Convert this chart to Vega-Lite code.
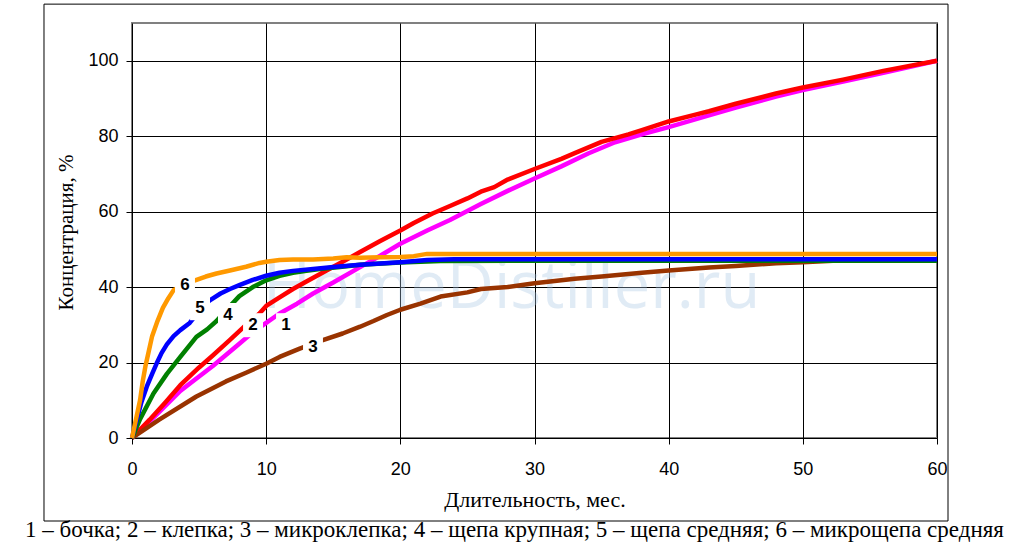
{
  "$schema": "https://vega.github.io/schema/vega-lite/v6.json",
  "width": 805,
  "height": 415,
  "autosize": {"type": "none"},
  "padding": {"left": 132, "top": 23, "right": 77, "bottom": 114},
  "background": "white",
  "title": {
    "text": "1 – бочка; 2 – клепка; 3 – микроклепка; 4 – щепа крупная; 5 – щепа средняя; 6 – микрощепа средняя",
    "orient": "bottom",
    "anchor": "middle",
    "font": "Liberation Serif, Times New Roman, DejaVu Serif, serif",
    "fontSize": 23,
    "fontWeight": "normal",
    "color": "black",
    "offset": -3,
    "dx": -20
  },
  "config": {
    "view": {"stroke": "#808080", "strokeWidth": 2},
    "axis": {
      "grid": true,
      "gridColor": "black",
      "gridWidth": 1,
      "gridOpacity": 1,
      "domain": false,
      "ticks": true,
      "tickColor": "black",
      "tickSize": 6,
      "labelFont": "Liberation Sans, Arial, sans-serif",
      "labelFontSize": 18,
      "labelColor": "black",
      "labelFlush": false,
      "titleFont": "Liberation Serif, Times New Roman, DejaVu Serif, serif",
      "titleFontSize": 22,
      "titleFontWeight": "normal",
      "titleColor": "black"
    }
  },
  "datasets": {
    "curves": [
      {"s": "1", "t": 0, "c": 0}, {"s": "1", "t": 1, "c": 3.3}, {"s": "1", "t": 2, "c": 6.8}, {"s": "1", "t": 3.6, "c": 12.5},
      {"s": "1", "t": 5, "c": 16.3}, {"s": "1", "t": 6, "c": 19}, {"s": "1", "t": 7, "c": 22}, {"s": "1", "t": 8, "c": 25},
      {"s": "1", "t": 9, "c": 28}, {"s": "1", "t": 10, "c": 30.5}, {"s": "1", "t": 11, "c": 33}, {"s": "1", "t": 12.3, "c": 35.6},
      {"s": "1", "t": 13.5, "c": 38.3}, {"s": "1", "t": 15, "c": 41.2}, {"s": "1", "t": 17, "c": 45.3}, {"s": "1", "t": 18.5, "c": 48.3},
      {"s": "1", "t": 20, "c": 51.5}, {"s": "1", "t": 22, "c": 55}, {"s": "1", "t": 23.7, "c": 57.8}, {"s": "1", "t": 26, "c": 62},
      {"s": "1", "t": 28, "c": 65.5}, {"s": "1", "t": 30, "c": 68.8}, {"s": "1", "t": 32, "c": 72}, {"s": "1", "t": 34, "c": 75.4},
      {"s": "1", "t": 36, "c": 78.4}, {"s": "1", "t": 38, "c": 80.5}, {"s": "1", "t": 40, "c": 82.4}, {"s": "1", "t": 43, "c": 85.5},
      {"s": "1", "t": 45, "c": 87.6}, {"s": "1", "t": 48, "c": 90.5}, {"s": "1", "t": 50, "c": 92.2}, {"s": "1", "t": 53, "c": 94.5},
      {"s": "1", "t": 56, "c": 96.8}, {"s": "1", "t": 60, "c": 100},

      {"s": "2", "t": 0, "c": 0}, {"s": "2", "t": 1.3, "c": 4.8}, {"s": "2", "t": 2.5, "c": 9.5}, {"s": "2", "t": 3.6, "c": 14},
      {"s": "2", "t": 5, "c": 18.7}, {"s": "2", "t": 6, "c": 21.8}, {"s": "2", "t": 7.3, "c": 26}, {"s": "2", "t": 8.5, "c": 30},
      {"s": "2", "t": 9.5, "c": 33}, {"s": "2", "t": 10, "c": 35}, {"s": "2", "t": 11, "c": 37.3}, {"s": "2", "t": 12, "c": 39.5},
      {"s": "2", "t": 13, "c": 41.5}, {"s": "2", "t": 14.5, "c": 44.4}, {"s": "2", "t": 16, "c": 47.3}, {"s": "2", "t": 17, "c": 49.3},
      {"s": "2", "t": 18.5, "c": 52.2}, {"s": "2", "t": 20, "c": 55}, {"s": "2", "t": 21, "c": 57}, {"s": "2", "t": 22.4, "c": 59.5},
      {"s": "2", "t": 23.7, "c": 61.5}, {"s": "2", "t": 25, "c": 63.5}, {"s": "2", "t": 26, "c": 65.3}, {"s": "2", "t": 27, "c": 66.5},
      {"s": "2", "t": 28, "c": 68.5}, {"s": "2", "t": 30, "c": 71.3}, {"s": "2", "t": 32, "c": 74}, {"s": "2", "t": 33, "c": 75.5},
      {"s": "2", "t": 35, "c": 78.5}, {"s": "2", "t": 37, "c": 80.5}, {"s": "2", "t": 38, "c": 81.6}, {"s": "2", "t": 40, "c": 83.9},
      {"s": "2", "t": 42, "c": 85.7}, {"s": "2", "t": 43, "c": 86.6}, {"s": "2", "t": 45, "c": 88.6}, {"s": "2", "t": 48, "c": 91.3},
      {"s": "2", "t": 50, "c": 92.9}, {"s": "2", "t": 53, "c": 95}, {"s": "2", "t": 56, "c": 97.3}, {"s": "2", "t": 60, "c": 100},

      {"s": "3", "t": 0, "c": 0}, {"s": "3", "t": 2, "c": 4.8}, {"s": "3", "t": 4.8, "c": 11}, {"s": "3", "t": 7, "c": 15},
      {"s": "3", "t": 8.5, "c": 17.3}, {"s": "3", "t": 10, "c": 19.7}, {"s": "3", "t": 11, "c": 21.5}, {"s": "3", "t": 12.5, "c": 23.7},
      {"s": "3", "t": 14, "c": 25.7}, {"s": "3", "t": 15.7, "c": 27.7}, {"s": "3", "t": 17, "c": 29.5}, {"s": "3", "t": 18, "c": 31},
      {"s": "3", "t": 19, "c": 32.6}, {"s": "3", "t": 20, "c": 34}, {"s": "3", "t": 21.5, "c": 35.6}, {"s": "3", "t": 23, "c": 37.5},
      {"s": "3", "t": 25, "c": 38.6}, {"s": "3", "t": 26, "c": 39.5}, {"s": "3", "t": 28, "c": 40}, {"s": "3", "t": 30, "c": 41},
      {"s": "3", "t": 33, "c": 42.2}, {"s": "3", "t": 35, "c": 42.8}, {"s": "3", "t": 38, "c": 43.8}, {"s": "3", "t": 40, "c": 44.4},
      {"s": "3", "t": 43, "c": 45.2}, {"s": "3", "t": 45, "c": 45.6}, {"s": "3", "t": 48, "c": 46.3}, {"s": "3", "t": 50, "c": 46.6},
      {"s": "3", "t": 53, "c": 47.1}, {"s": "3", "t": 56, "c": 47.3}, {"s": "3", "t": 60, "c": 47.4},

      {"s": "4", "t": 0, "c": 0}, {"s": "4", "t": 0.6, "c": 5}, {"s": "4", "t": 1.6, "c": 11.8}, {"s": "4", "t": 2.6, "c": 17},
      {"s": "4", "t": 3.6, "c": 21.5}, {"s": "4", "t": 4.8, "c": 26.8}, {"s": "4", "t": 5.6, "c": 28.8}, {"s": "4", "t": 6.3, "c": 31},
      {"s": "4", "t": 7, "c": 33.8}, {"s": "4", "t": 8, "c": 37.6}, {"s": "4", "t": 9, "c": 40}, {"s": "4", "t": 10, "c": 41.8},
      {"s": "4", "t": 11, "c": 43}, {"s": "4", "t": 12, "c": 43.8}, {"s": "4", "t": 13, "c": 44.3}, {"s": "4", "t": 14, "c": 44.8},
      {"s": "4", "t": 15.5, "c": 45.3}, {"s": "4", "t": 17, "c": 45.9}, {"s": "4", "t": 20, "c": 46.5}, {"s": "4", "t": 23, "c": 46.9},
      {"s": "4", "t": 30, "c": 47}, {"s": "4", "t": 40, "c": 47}, {"s": "4", "t": 50, "c": 47}, {"s": "4", "t": 60, "c": 47},

      {"s": "5", "t": 0, "c": 0}, {"s": "5", "t": 0.35, "c": 4.8}, {"s": "5", "t": 0.7, "c": 9.5}, {"s": "5", "t": 1.1, "c": 13.6},
      {"s": "5", "t": 1.5, "c": 17}, {"s": "5", "t": 1.84, "c": 19.8}, {"s": "5", "t": 2.2, "c": 22.5}, {"s": "5", "t": 2.6, "c": 24.8},
      {"s": "5", "t": 3.1, "c": 27}, {"s": "5", "t": 3.6, "c": 28.6}, {"s": "5", "t": 4.3, "c": 30.5}, {"s": "5", "t": 5, "c": 33.6},
      {"s": "5", "t": 5.8, "c": 36.5}, {"s": "5", "t": 6.6, "c": 38.3}, {"s": "5", "t": 7.3, "c": 39.5}, {"s": "5", "t": 8, "c": 40.5},
      {"s": "5", "t": 9, "c": 41.9}, {"s": "5", "t": 10, "c": 43}, {"s": "5", "t": 11, "c": 43.8}, {"s": "5", "t": 12, "c": 44.3},
      {"s": "5", "t": 13.5, "c": 44.8}, {"s": "5", "t": 15, "c": 45.3}, {"s": "5", "t": 17, "c": 45.9}, {"s": "5", "t": 20, "c": 46.6},
      {"s": "5", "t": 22, "c": 47.2}, {"s": "5", "t": 24, "c": 47.4}, {"s": "5", "t": 30, "c": 47.4}, {"s": "5", "t": 40, "c": 47.4},
      {"s": "5", "t": 50, "c": 47.4}, {"s": "5", "t": 60, "c": 47.4},

      {"s": "6", "t": 0, "c": 0}, {"s": "6", "t": 0.3, "c": 5}, {"s": "6", "t": 0.6, "c": 10}, {"s": "6", "t": 0.8, "c": 15},
      {"s": "6", "t": 1, "c": 19}, {"s": "6", "t": 1.25, "c": 23}, {"s": "6", "t": 1.5, "c": 27}, {"s": "6", "t": 1.9, "c": 31},
      {"s": "6", "t": 2.3, "c": 34.5}, {"s": "6", "t": 2.7, "c": 37}, {"s": "6", "t": 3.1, "c": 39.2}, {"s": "6", "t": 4, "c": 41},
      {"s": "6", "t": 4.7, "c": 41.8}, {"s": "6", "t": 5.5, "c": 42.8}, {"s": "6", "t": 6.3, "c": 43.6}, {"s": "6", "t": 7.3, "c": 44.4},
      {"s": "6", "t": 8.5, "c": 45.4}, {"s": "6", "t": 9.5, "c": 46.4}, {"s": "6", "t": 10, "c": 46.7}, {"s": "6", "t": 11, "c": 47.2},
      {"s": "6", "t": 12, "c": 47.3}, {"s": "6", "t": 13.5, "c": 47.3}, {"s": "6", "t": 15, "c": 47.6}, {"s": "6", "t": 16, "c": 47.9},
      {"s": "6", "t": 17, "c": 47.8}, {"s": "6", "t": 18.5, "c": 47.9}, {"s": "6", "t": 20, "c": 48}, {"s": "6", "t": 21, "c": 48.2},
      {"s": "6", "t": 22, "c": 48.8}, {"s": "6", "t": 30, "c": 48.8}, {"s": "6", "t": 40, "c": 48.8}, {"s": "6", "t": 50, "c": 48.8},
      {"s": "6", "t": 60, "c": 48.8}
    ],
    "labels": [
      {"lab": "6", "t": 3.95, "c": 40.5},
      {"lab": "5", "t": 5.07, "c": 34.4},
      {"lab": "4", "t": 7.15, "c": 32.6},
      {"lab": "2", "t": 9.02, "c": 29.9},
      {"lab": "1", "t": 11.48, "c": 29.9},
      {"lab": "3", "t": 13.49, "c": 24.1}
    ],
    "frame": [{"t": -6.56, "t2": 60.82, "c": -22.0, "c2": 115.0}],
    "mark": [{"txt": "HomeDistiller.ru", "t": 28.3, "c": 34.4}]
  },
  "encoding": {
    "x": {
      "field": "t",
      "type": "quantitative",
      "scale": {"domain": [0, 60], "nice": false, "zero": false},
      "axis": {
        "values": [0, 10, 20, 30, 40, 50, 60],
        "title": "Длительность, мес.",
        "labelPadding": 16,
        "titleY": 68,
        "titleBaseline": "alphabetic"
      }
    },
    "y": {
      "field": "c",
      "type": "quantitative",
      "scale": {"domain": [0, 110], "nice": false, "zero": false},
      "axis": {
        "values": [0, 20, 40, 60, 80, 100],
        "title": "Концентрация, %",
        "titleFontSize": 21,
        "labelPadding": 8,
        "titleX": -60,
        "titleY": 209,
        "titleBaseline": "alphabetic"
      }
    }
  },
  "layer": [
    {
      "data": {"name": "frame"},
      "mark": {"type": "rect", "fillOpacity": 0, "stroke": "black", "strokeWidth": 1},
      "encoding": {
        "x2": {"field": "t2"},
        "y2": {"field": "c2"}
      }
    },
    {
      "data": {"name": "mark"},
      "mark": {
        "type": "text",
        "font": "Open Sans",
        "fontSize": 65,
        "align": "center",
        "baseline": "alphabetic",
        "color": "#a9c7e4",
        "opacity": 0.35
      },
      "encoding": {"text": {"field": "txt"}}
    },
    {
      "data": {"name": "curves"},
      "mark": {"type": "line", "strokeWidth": 4.5, "strokeJoin": "round", "strokeCap": "butt"},
      "encoding": {
        "color": {
          "field": "s",
          "type": "nominal",
          "scale": {
            "domain": ["1", "2", "3", "4", "5", "6"],
            "range": ["#ff00ff", "#ff0000", "#993300", "#008000", "#0000ff", "#ff9900"]
          },
          "legend": null
        }
      }
    },
    {
      "data": {"name": "labels"},
      "mark": {
        "type": "point",
        "shape": "M-0.83,-1H0.83V1H-0.83Z",
        "filled": true,
        "fill": "white",
        "opacity": 1,
        "strokeWidth": 0,
        "size": 576
      }
    },
    {
      "data": {"name": "labels"},
      "mark": {
        "type": "text",
        "font": "Liberation Sans, Arial, sans-serif",
        "fontSize": 17,
        "fontWeight": "bold",
        "align": "center",
        "baseline": "middle",
        "color": "black"
      },
      "encoding": {"text": {"field": "lab"}}
    }
  ]
}
